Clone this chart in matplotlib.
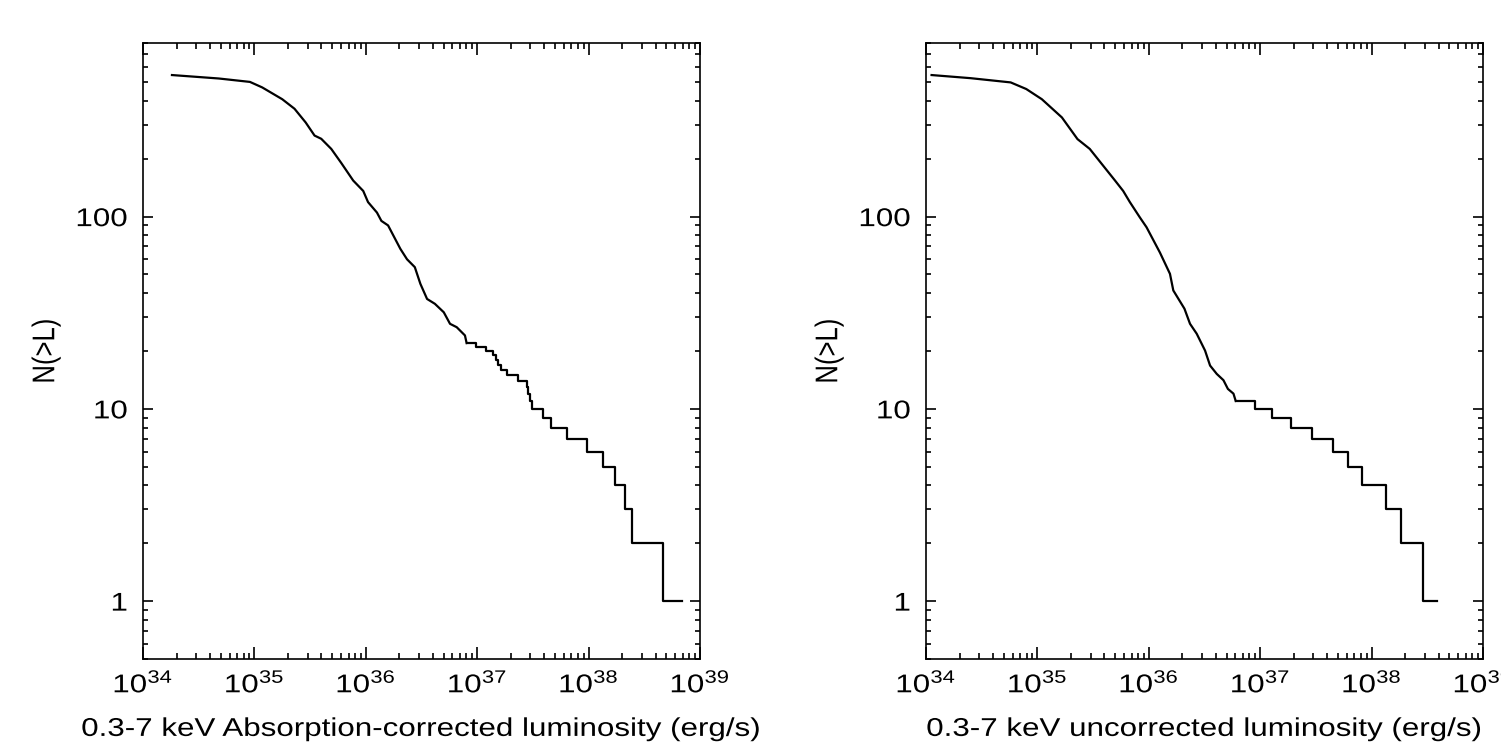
import matplotlib
matplotlib.use("Agg")
import matplotlib.pyplot as plt
import numpy as np
from matplotlib.ticker import LogLocator, FixedLocator, FixedFormatter, NullFormatter
from matplotlib.patheffects import AbstractPathEffect
from matplotlib.transforms import Affine2D

plt.rcParams['font.family'] = ['Liberation Sans', 'DejaVu Sans']
plt.rcParams['mathtext.fontset'] = 'custom'
plt.rcParams['mathtext.rm'] = 'Liberation Sans'
plt.rcParams['mathtext.it'] = 'Liberation Sans:italic'
plt.rcParams['mathtext.bf'] = 'Liberation Sans:bold'

# ---------------- data (log10 L, N(>L)) ----------------
# Left panel: absorption-corrected
left_smooth_logL = [34.26, 34.68, 34.96, 35.07, 35.25, 35.36, 35.46, 35.54, 35.60, 35.69,
                    35.78, 35.887, 35.977, 36.02, 36.10, 36.14, 36.20, 36.31, 36.37, 36.44,
                    36.49, 36.55, 36.62, 36.70, 36.756, 36.816, 36.89, 36.905]
left_smooth_N = [545, 523, 502, 470, 408, 364, 309, 264, 254, 225,
                 190, 154, 136, 119, 105, 95, 90, 68, 60, 54.6,
                 44.7, 37.3, 35.2, 31.8, 27.7, 26.6, 24.1, 22]
left_step_logL = [36.905, 36.99, 37.08, 37.14, 37.17, 37.19, 37.21, 37.268, 37.366, 37.447,
                  37.46, 37.475, 37.489, 37.588, 37.662, 37.809, 37.988, 38.127, 38.240,
                  38.324, 38.390, 38.671, 38.836]
left_step_N = [22, 21, 20, 19, 18, 17, 16, 15, 14, 13,
               12, 11, 10, 9, 8, 7, 6, 5, 4,
               3, 2, 1, 1]

# Right panel: uncorrected
right_smooth_logL = [34.05, 34.40, 34.76, 34.90, 35.04, 35.22, 35.36, 35.47, 35.697, 35.77,
                     35.83, 35.92, 35.98, 36.10, 36.19, 36.22, 36.32, 36.37, 36.43, 36.505,
                     36.55, 36.61, 36.67, 36.71, 36.76, 36.78]
right_smooth_N = [545, 525, 499, 461, 408, 328, 253, 225, 154, 136,
                  119, 99, 88, 65, 50.4, 41.3, 33.2, 27.7, 24.6, 20.1,
                  16.8, 15.2, 14.1, 12.7, 12.0, 11]
right_step_logL = [36.78, 36.953, 37.103, 37.274, 37.462, 37.651, 37.791, 37.911, 38.127,
                   38.261, 38.459, 38.590]
right_step_N = [11, 10, 9, 8, 7, 6, 5, 4, 3, 2, 1, 1]

xlabels = ["0.3-7 keV Absorption-corrected luminosity (erg/s)",
           "0.3-7 keV uncorrected luminosity (erg/s)"]
ylabel = "N(>L)"
xtick_exps = [34, 35, 36, 37, 38, 39]
ytick_vals = [1, 10, 100]
ytick_labels = ["1", "10", "100"]


class Stretch(AbstractPathEffect):
    """Stretch text glyphs (in the text's own frame) about an anchor point."""

    def __init__(self, sx=1.0, sy=1.0, ax=0.5, ay=0.5):
        super().__init__()
        self.sx, self.sy, self.ax, self.ay = sx, sy, ax, ay

    def draw_path(self, renderer, gc, tpath, affine, rgbFace=None):
        ext = tpath.get_extents()
        cx = ext.x0 + self.ax * (ext.x1 - ext.x0)
        cy = ext.y0 + self.ay * (ext.y1 - ext.y0)
        t = Affine2D().translate(-cx, -cy).scale(self.sx, self.sy).translate(cx, cy) + affine
        renderer.draw_path(gc, tpath, t, rgbFace)


SX = 1.22
FS = 18.5

fig = plt.figure(figsize=(15.01, 7.51), dpi=100)
W, H = 1501, 751
ax_h_top, ax_h_bot = 43, 659
panels = [(143, 700), (926, 1483)]
data = [(left_smooth_logL, left_smooth_N, left_step_logL, left_step_N),
        (right_smooth_logL, right_smooth_N, right_step_logL, right_step_N)]

for i, ((x0, x1), (sL, sN, tL, tN)) in enumerate(zip(panels, data)):
    ax = fig.add_axes([x0 / W, 1 - ax_h_bot / H, (x1 - x0) / W, (ax_h_bot - ax_h_top) / H])
    ax.plot(10 ** np.array(sL), sN, color='black', lw=1.6)
    ax.plot(10 ** np.array(tL), tN, color='black', lw=1.6, drawstyle='steps-post')
    ax.set_xscale('log')
    ax.set_yscale('log')
    ax.set_xlim(1e34, 1e39)
    ax.set_ylim(0.5, 800)
    ax.xaxis.set_major_locator(FixedLocator([10.0 ** e for e in xtick_exps]))
    ax.xaxis.set_major_formatter(FixedFormatter([r"$\mathregular{10^{%d}}$" % e for e in xtick_exps]))
    ax.xaxis.set_minor_locator(LogLocator(base=10, subs=np.arange(2, 10), numticks=20))
    ax.xaxis.set_minor_formatter(NullFormatter())
    ax.yaxis.set_major_locator(FixedLocator(ytick_vals))
    ax.yaxis.set_major_formatter(FixedFormatter(ytick_labels))
    ax.yaxis.set_minor_locator(LogLocator(base=10, subs=np.arange(2, 10), numticks=20))
    ax.yaxis.set_minor_formatter(NullFormatter())
    ax.tick_params(which='both', direction='in', top=True, right=True, width=1.2, labelsize=FS)
    ax.tick_params(axis='x', which='major', length=8.6, pad=8)
    ax.tick_params(axis='x', which='minor', length=4.3)
    ax.tick_params(axis='y', which='major', length=7.2, pad=11)
    ax.tick_params(axis='y', which='minor', length=3.6)
    for sp in ax.spines.values():
        sp.set_linewidth(1.2)
    for lab in ax.get_xticklabels():
        lab.set_path_effects([Stretch(sx=SX, ax=0.5)])
    for lab in ax.get_yticklabels():
        lab.set_path_effects([Stretch(sx=SX, ax=1.0)])
    ax.set_xlabel(xlabels[i], fontsize=FS)
    ax.xaxis.label.set_path_effects([Stretch(sx=SX, ax=0.5)])
    ax.xaxis.set_label_coords(0.5, -0.094)
    ax.set_ylabel(ylabel, fontsize=FS)
    ax.yaxis.label.set_path_effects([Stretch(sy=SX, ay=0.5)])
    ax.yaxis.set_label_coords(-0.153, 0.5)

fig.savefig("out.png", dpi=100)
